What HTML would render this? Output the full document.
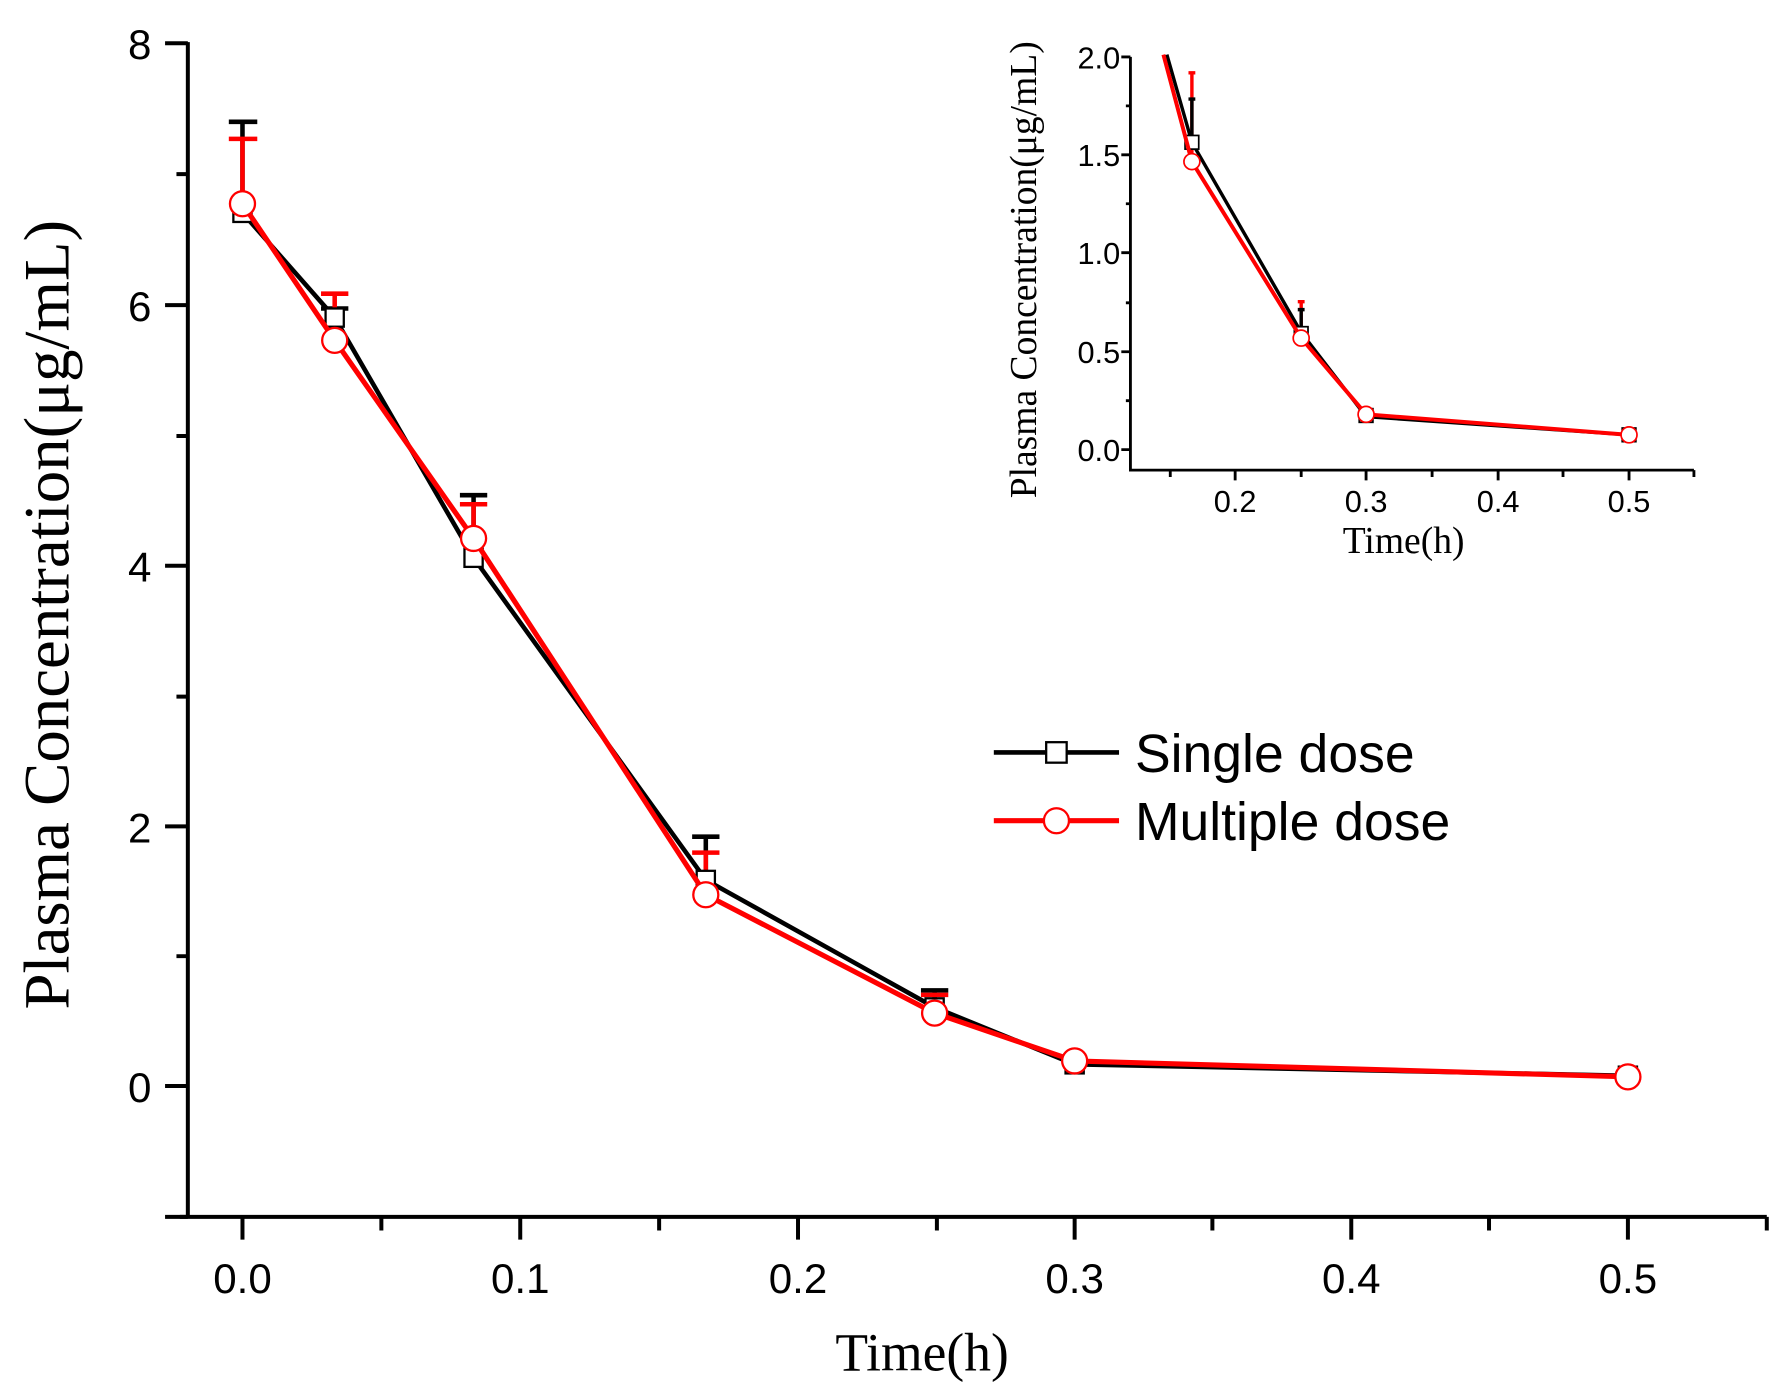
<!DOCTYPE html>
<html><head><meta charset="utf-8"><style>html,body{margin:0;padding:0;background:#fff}svg{display:block}</style></head>
<body>
<svg width="1785" height="1399" viewBox="0 0 1568 1229" preserveAspectRatio="none" xmlns="http://www.w3.org/2000/svg">
<rect width="1568" height="1229" fill="#fff"/>
<g stroke="#000" stroke-width="3.5" fill="none">
<path d="M165,37 V1069 M158,1069 H1552"/>
<path d="M145,38 H165 M145,268 H165 M145,497 H165 M145,726 H165 M145,954 H165 M145,1069 H165"/>
<path d="M155,153 H165 M155,383 H165 M155,612 H165 M155,840 H165"/>
<path d="M213,1069 v20 M457,1069 v20 M701,1069 v20 M944,1069 v20 M1187,1069 v20 M1430,1069 v20"/>
<path d="M335,1069 v12 M579,1069 v12 M823,1069 v12 M1065,1069 v12 M1308,1069 v12 M1552,1069 v12"/>
</g>
<g font-family="Liberation Sans, sans-serif" font-size="37" text-anchor="end">
<text x="133" y="52">8</text><text x="133" y="282">6</text><text x="133" y="511">4</text><text x="133" y="740">2</text><text x="133" y="968">0</text>
</g>
<g font-family="Liberation Sans, sans-serif" font-size="37" text-anchor="middle">
<text x="213" y="1136">0.0</text><text x="457" y="1136">0.1</text><text x="701" y="1136">0.2</text><text x="944" y="1136">0.3</text><text x="1187" y="1136">0.4</text><text x="1430" y="1136">0.5</text>
</g>
<text x="810" y="1204" font-family="Liberation Serif, serif" font-size="47" text-anchor="middle">Time(h)</text>
<text transform="translate(60,540) rotate(-90)" font-family="Liberation Serif, serif" font-size="57" text-anchor="middle">Plasma Concentration(μg/mL)</text>
<g stroke="#000" stroke-width="4">
<path d="M213,187 V107 M201,107 H226 M294,279 V271 M282,271 H306 M416,490 V435 M404,435 H428 M620,773 V735 M608,735 H632 M821,885 V870 M809,870 H833"/>
</g>
<g stroke="#f00" stroke-width="4">
<path d="M213,179 V122 M201,122 H226 M294,299 V258 M282,258 H306 M416,473 V443 M404,443 H428 M620,786 V749 M608,749 H632 M821,890 V874 M809,874 H833"/>
</g>
<polyline fill="none" stroke="#000" stroke-width="4" points="213,187 294,279 416,490 620,773 821,885 944,935 1430,945"/>
<g fill="#fff" stroke="#000" stroke-width="2">
<rect x="205" y="179" width="16" height="16"/><rect x="286" y="271" width="16" height="16"/><rect x="408" y="482" width="16" height="16"/><rect x="612" y="765" width="16" height="16"/><rect x="813" y="877" width="16" height="16"/><rect x="936" y="927" width="16" height="16"/><rect x="1422" y="937" width="16" height="16"/>
</g>
<polyline fill="none" stroke="#f00" stroke-width="4.5" points="213,179 294,299 416,473 620,786 821,890 944,932 1430,946"/>
<g fill="#fff" stroke="#f00" stroke-width="2">
<circle cx="213" cy="179" r="11"/><circle cx="294" cy="299" r="11"/><circle cx="416" cy="473" r="11"/><circle cx="620" cy="786" r="11"/><circle cx="821" cy="890" r="11"/><circle cx="944" cy="932" r="11"/><circle cx="1430" cy="946" r="11"/>
</g>
<line x1="873" y1="661" x2="983" y2="661" stroke="#000" stroke-width="4"/>
<rect x="919" y="652" width="18" height="18" fill="#fff" stroke="#000" stroke-width="2"/>
<line x1="873" y1="721" x2="983" y2="721" stroke="#f00" stroke-width="4.5"/>
<circle cx="928" cy="721" r="11" fill="#fff" stroke="#f00" stroke-width="2"/>
<g font-family="Liberation Sans, sans-serif" font-size="47">
<text x="997" y="678">Single dose</text><text x="997" y="738">Multiple dose</text>
</g>
<g stroke="#000" stroke-width="2.5" fill="none">
<path d="M993,50 V413 H1488"/>
<path d="M985,50 H993 M985,136 H993 M985,222 H993 M985,309 H993 M985,395 H993"/>
<path d="M989,93 H993 M989,179 H993 M989,266 H993 M989,352 H993"/>
<path d="M1085,413 v9 M1200,413 v9 M1316,413 v9 M1431,413 v9 M1028,413 v6 M1143,413 v6 M1258,413 v6 M1373,413 v6 M1488,413 v6"/>
</g>
<g font-family="Liberation Sans, sans-serif" font-size="27" text-anchor="end">
<text x="984" y="60">2.0</text><text x="984" y="146">1.5</text><text x="984" y="232">1.0</text><text x="984" y="319">0.5</text><text x="984" y="405">0.0</text>
</g>
<g font-family="Liberation Sans, sans-serif" font-size="27" text-anchor="middle">
<text x="1085" y="450">0.2</text><text x="1200" y="450">0.3</text><text x="1316" y="450">0.4</text><text x="1431" y="450">0.5</text>
</g>
<text x="1233" y="486" font-family="Liberation Serif, serif" font-size="33" text-anchor="middle">Time(h)</text>
<text transform="translate(910,237) rotate(-90)" font-family="Liberation Serif, serif" font-size="33" text-anchor="middle">Plasma Concentration(μg/mL)</text>
<g stroke="#f00" stroke-width="3"><path d="M1047,142 V64 M1044,64 H1050 M1143,297 V265 M1140,265 H1146"/></g>
<g stroke="#000" stroke-width="3"><path d="M1047,125 V87 M1044,87 H1050 M1143,292 V272 M1140,272 H1146 M1200,365 V358 M1431,381 V377"/></g>
<polyline fill="none" stroke="#000" stroke-width="3" points="1025,48 1047,125 1143,292 1200,366 1431,382"/>
<rect x="1041" y="119" width="12" height="12" fill="#fff" stroke="#000" stroke-width="1.5"/>
<rect x="1137" y="287" width="12" height="12" fill="#fff" stroke="#000" stroke-width="1.5"/>
<rect x="1194" y="359" width="12" height="12" fill="#fff" stroke="#000" stroke-width="1.5"/>
<rect x="1425" y="376" width="12" height="12" fill="#fff" stroke="#000" stroke-width="1.5"/>
<polyline fill="none" stroke="#f00" stroke-width="3.5" points="1022,48 1047,142 1143,297 1200,364 1431,382"/>
<g fill="#fff" stroke="#f00" stroke-width="1.5">
<circle cx="1047" cy="142" r="7"/><circle cx="1143" cy="297" r="7"/><circle cx="1200" cy="364" r="7"/><circle cx="1431" cy="382" r="7"/>
</g>
</svg>
</body></html>
